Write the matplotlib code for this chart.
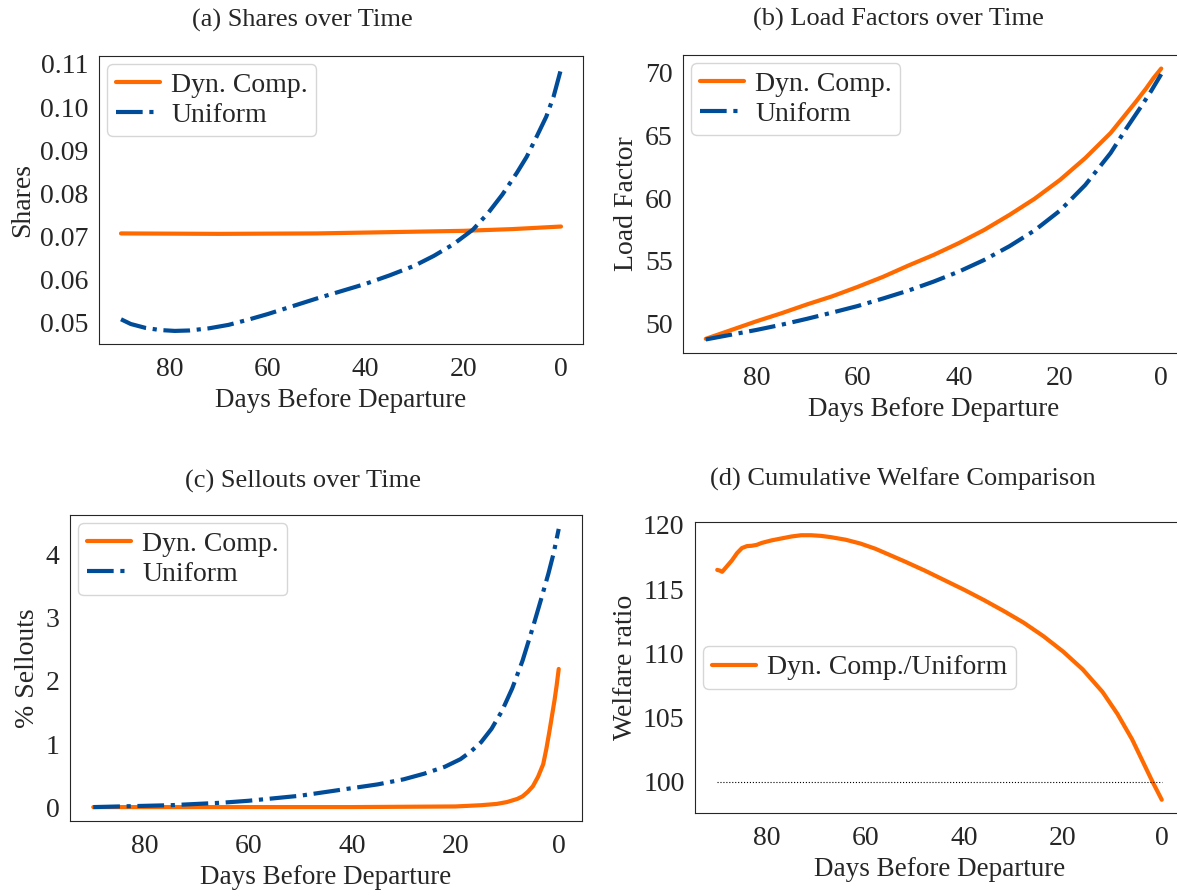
import matplotlib
matplotlib.use("Agg")
import matplotlib.pyplot as plt
import seaborn as sns

# (a) shares
days_share_dyn = [90, 70, 50, 40, 30, 20, 15, 10, 5, 0]
share_dyn = [0.0707, 0.0706, 0.0707, 0.0709, 0.0711, 0.0713, 0.0715, 0.0717, 0.0720, 0.0723]
days_share_uni = [90, 88, 85, 82, 79, 76, 72, 68, 64, 60, 55, 50, 45, 40, 35, 30, 26, 22,
                  18, 15, 12, 9, 7, 5, 3, 1.5, 0]
share_uni = [0.0508, 0.0497, 0.0488, 0.0483, 0.0481, 0.0482, 0.0487, 0.0495, 0.0507, 0.0520,
             0.0538, 0.0556, 0.0573, 0.0590, 0.0610, 0.0632, 0.0655, 0.0682, 0.0716, 0.0753,
             0.0797, 0.0848, 0.0885, 0.0931, 0.0978, 0.1025, 0.1088]

# (b) load factors
days_lf = [90, 85, 80, 75, 70, 65, 60, 55, 50, 45, 40, 35, 30, 25, 20, 15, 10, 5, 3, 1.5, 0]
lf_dyn = [48.75, 49.45, 50.15, 50.8, 51.5, 52.15, 52.9, 53.7, 54.6, 55.45, 56.4, 57.45, 58.65,
          59.95, 61.45, 63.2, 65.2, 67.7, 68.75, 69.6, 70.35]
days_lf_uni = [90, 85, 80, 75, 70, 65, 60, 55, 50, 45, 40, 35, 30, 25, 20, 15, 10, 7, 4, 2, 0]
lf_uni = [48.7, 49.08, 49.46, 49.88, 50.35, 50.85, 51.37, 51.97, 52.6, 53.32, 54.12, 55.05,
          56.15, 57.42, 59.0, 61.05, 63.6, 65.5, 67.3, 68.55, 69.9]

# (c) sellouts
days_so_uni = [90, 85, 80, 75, 70, 65, 60, 55, 50, 45, 40, 35, 30, 26, 22, 19, 17, 15, 13,
               11, 9, 7, 5, 3.5, 2, 1, 0]
so_uni = [0.0, 0.01, 0.02, 0.03, 0.05, 0.07, 0.10, 0.14, 0.18, 0.24, 0.30, 0.36, 0.44, 0.53,
          0.64, 0.76, 0.88, 1.03, 1.24, 1.52, 1.88, 2.32, 2.85, 3.27, 3.70, 4.02, 4.41]
days_so_dyn = [90, 60, 40, 30, 20, 15, 12, 10, 8, 7, 6, 5, 4, 3, 2.4, 1.8, 1.3, 0.8, 0.4, 0]
so_dyn = [0.0, 0.0, 0.0, 0.005, 0.01, 0.03, 0.05, 0.08, 0.13, 0.17, 0.24, 0.33, 0.48, 0.68,
          0.92, 1.20, 1.45, 1.70, 1.93, 2.19]

# (d) welfare ratio
days_w = [90, 89.5, 89, 88, 87, 86, 85, 84, 83, 82, 81, 79, 77, 75, 73, 71, 69, 67, 64, 61,
          58, 55, 52, 48, 44, 40, 36, 32, 28, 24, 20, 16, 12, 9, 6, 4, 2, 0]
welfare = [116.5, 116.45, 116.35, 116.8, 117.25, 117.8, 118.2, 118.35, 118.38, 118.45, 118.6,
           118.8, 118.95, 119.1, 119.2, 119.2, 119.15, 119.05, 118.85, 118.55, 118.15, 117.65,
           117.15, 116.45, 115.7, 114.95, 114.15, 113.3, 112.4, 111.35, 110.15, 108.75, 107.0,
           105.3, 103.3, 101.7, 100.1, 98.6]

ORANGE = "#ff6a00"
BLUE = "#004c99"

sns.set_style("white")
plt.rcParams["font.family"] = ["Liberation Serif", "DejaVu Serif"]
plt.rcParams["font.size"] = 20

fig = plt.figure(figsize=(11.77, 8.96), dpi=100)
W, H = 1177, 896


def make_ax(l, r, t, b):
    return fig.add_axes([l / W, 1 - b / H, (r - l) / W, (b - t) / H])


ax_a = make_ax(99, 583, 56, 344)
ax_b = make_ax(683, 1184, 55, 353)
ax_c = make_ax(70, 582, 515, 821)
ax_d = make_ax(695, 1184, 522, 813)

LW = 3

ax_a.plot(days_share_dyn, share_dyn, color=ORANGE, lw=LW, label="Dyn. Comp.")
ax_a.plot(days_share_uni, share_uni, color=BLUE, lw=LW, ls="-.", label="Uniform")
ax_a.set_title("(a) Shares over Time", fontsize=19, pad=21, x=0.42)
ax_a.set_ylabel("Shares")
ax_a.set_yticks([0.05, 0.06, 0.07, 0.08, 0.09, 0.10, 0.11])

ax_b.plot(days_lf, lf_dyn, color=ORANGE, lw=LW, label="Dyn. Comp.")
ax_b.plot(days_lf_uni, lf_uni, color=BLUE, lw=LW, ls="-.", label="Uniform")
ax_b.set_title("(b) Load Factors over Time", fontsize=19, pad=21, x=0.43)
ax_b.set_ylabel("Load Factor")

ax_c.plot(days_so_dyn, so_dyn, color=ORANGE, lw=LW, label="Dyn. Comp.")
ax_c.plot(days_so_uni, so_uni, color=BLUE, lw=LW, ls="-.", label="Uniform")
ax_c.set_title("(c) Sellouts over Time", fontsize=19, pad=20, x=0.455)
ax_c.set_ylabel("% Sellouts")

ax_d.plot(days_w, welfare, color=ORANGE, lw=LW, label="Dyn. Comp./Uniform")
ax_d.plot([90, 0], [100, 100], color="black", lw=0.8, ls=":")
ax_d.set_title("(d) Cumulative Welfare Comparison", fontsize=19, pad=26, x=0.425)
ax_d.set_ylabel("Welfare ratio")

for ax in (ax_a, ax_b, ax_c, ax_d):
    ax.set_xlim(94.5, -4.5)
    ax.set_xticks([80, 60, 40, 20, 0])
    ax.set_xlabel("Days Before Departure", fontsize=19.5, labelpad=4)
    ax.tick_params(axis="x", labelsize=20, pad=6)
    ax.tick_params(axis="y", labelsize=20, pad=4)

leg_kw = dict(fontsize=20, handlelength=1.6, handletextpad=0.4, borderpad=0.3,
              labelspacing=0.15, borderaxespad=0.3)
ax_a.legend(loc="upper left", **leg_kw)
ax_b.legend(loc="upper left", **leg_kw)
ax_c.legend(loc="upper left", **leg_kw)
ax_d.legend(loc="center left", **leg_kw)

fig.savefig("out.png", dpi=100)
